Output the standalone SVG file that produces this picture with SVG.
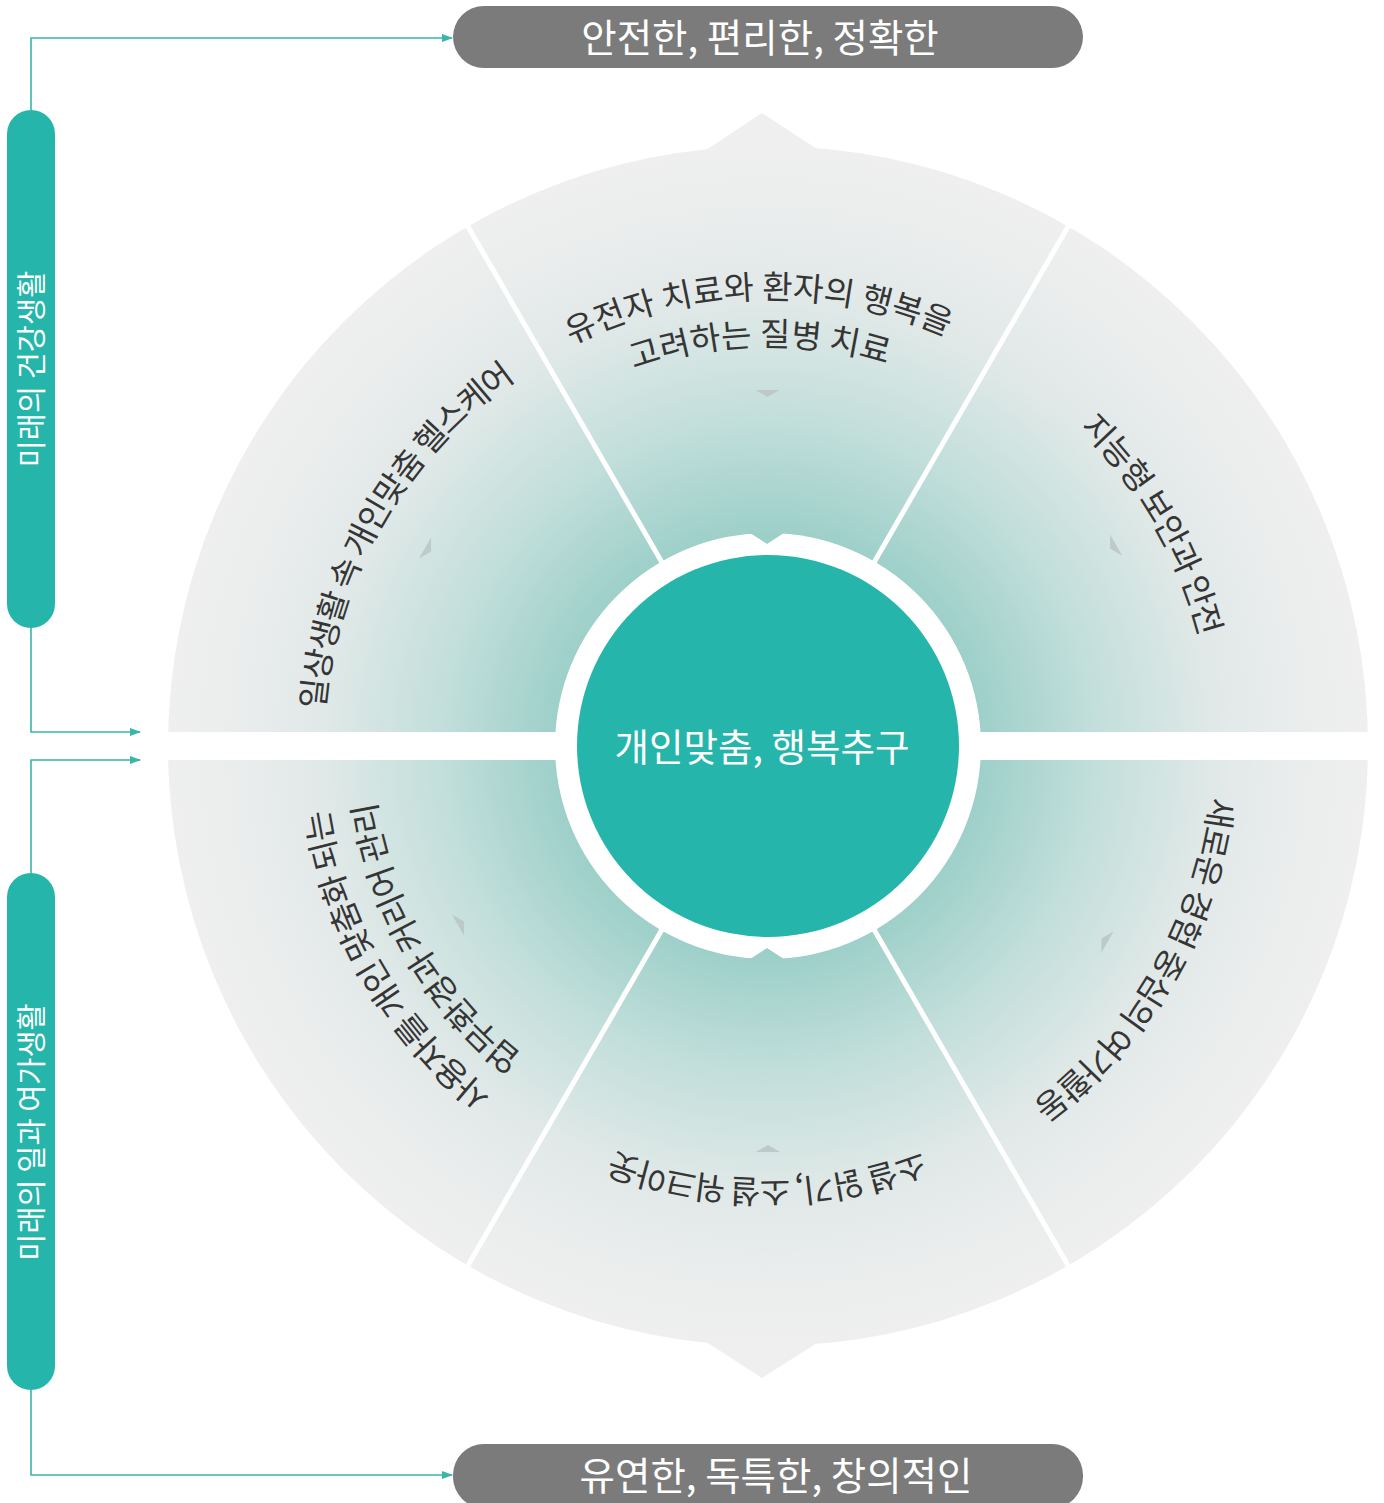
<svg xmlns="http://www.w3.org/2000/svg" width="1384" height="1503" viewBox="0 0 1384 1503">
<defs>
<style>
.seg{font-family:"Noto Sans CJK KR","Noto Sans",sans-serif;font-size:33px;letter-spacing:-1.5px;fill:#353535}
.wide{letter-spacing:0px}
.ban{font-family:"Noto Sans CJK KR","Noto Sans",sans-serif;font-size:38.5px;fill:#ffffff;text-anchor:middle}
.bar{font-family:"Noto Sans CJK KR","Noto Sans",sans-serif;font-size:29.5px;fill:#ffffff;text-anchor:middle}
.conn{fill:none;stroke:#3ab5aa;stroke-width:1.6}
.div{stroke:#ffffff;stroke-width:5}
.mk{fill:#b9c5c3;opacity:0.85}
</style>
<radialGradient id="g" gradientUnits="userSpaceOnUse" cx="768" cy="746" r="600">
<stop offset="0.35" stop-color="#9dcfc9"/>
<stop offset="0.55" stop-color="#c3dfdb"/>
<stop offset="0.75" stop-color="#e1e9e8"/>
<stop offset="0.9" stop-color="#ebeded"/>
<stop offset="1" stop-color="#efefef"/>
</radialGradient>
<marker id="arr" markerUnits="userSpaceOnUse" markerWidth="11" markerHeight="8" refX="10" refY="4" orient="auto">
<path d="M0,0 L11,4 L0,8 z" fill="#3ab5aa"/>
</marker>
<path id="p-top1" d="M451.9,429.9 A447,447 0 0 1 1084.1,429.9"/>
<path id="p-top2" d="M485.2,463.2 A400,400 0 0 1 1050.8,463.2"/>
<path id="p-ul" d="M338.2,861.2 A445,445 0 0 1 652.8,316.2"/>
<path id="p-ur" d="M883.2,316.2 A445,445 0 0 1 1197.8,861.2"/>
<path id="p-lr" d="M1197.8,630.8 A445,445 0 0 1 883.2,1175.8"/>
<path id="p-bot" d="M1074.9,1052.9 A434,434 0 0 1 461.1,1052.9"/>
<path id="p-ll1" d="M653.1,1174.9 A444,444 0 0 1 339.1,631.1"/>
<path id="p-ll2" d="M665.5,1128.5 A396,396 0 0 1 385.5,643.5"/>
<polygon id="tri" points="-12,0 12,0 0,7"/>
</defs>
<rect width="1384" height="1503" fill="#ffffff"/>

<g id="wheel">
<circle cx="768" cy="746" r="600" fill="url(#g)"/>
<polygon points="697,156 762,113 828,156" fill="#efefef"/>
<polygon points="697,1336 762,1378 828,1336" fill="#efefef"/>
<rect x="150" y="732" width="1240" height="28" fill="#ffffff"/>
<line class="div" x1="768" y1="746" x2="463" y2="218"/>
<line class="div" x1="768" y1="746" x2="1073" y2="218"/>
<line class="div" x1="768" y1="746" x2="463" y2="1274"/>
<line class="div" x1="768" y1="746" x2="1073" y2="1274"/>
<circle cx="768" cy="746" r="213" fill="#ffffff"/>
<polygon points="747,531 767,544 787,531" fill="url(#g)"/>
<polygon points="747,961 767,948 787,961" fill="url(#g)"/>
</g>

<g id="markers">
<use href="#tri" class="mk" transform="translate(767.5,390)"/>
<use href="#tri" class="mk" transform="rotate(-60 768 746) translate(768,350)"/>
<use href="#tri" class="mk" transform="rotate(60 768 746) translate(768,344)"/>
<use href="#tri" class="mk" transform="rotate(120 768 746) translate(768,354)"/>
<use href="#tri" class="mk" transform="rotate(180 768 746) translate(768,340)"/>
<use href="#tri" class="mk" transform="rotate(240 768 746) translate(768,388)"/>
</g>

<g id="center">
<circle cx="768" cy="746" r="191" fill="#26b5aa"/>
<text x="762" y="761" class="ban" style="font-size:37.5px">개인맞춤, 행복추구</text>
</g>

<g id="seg-top">
<text class="seg wide"><textPath href="#p-top1" startOffset="48.6%" text-anchor="middle">유전자 치료와 환자의 행복을</textPath></text>
<text class="seg wide"><textPath href="#p-top2" startOffset="48.7%" text-anchor="middle">고려하는 질병 치료</textPath></text>
</g>
<g id="seg-upper-left">
<text class="seg"><textPath href="#p-ul" startOffset="50%" text-anchor="middle">일상생활 속 개인맞춤 헬스케어</textPath></text>
</g>
<g id="seg-upper-right">
<text class="seg"><textPath href="#p-ur" startOffset="50%" text-anchor="middle">지능형 보안과 안전</textPath></text>
</g>
<g id="seg-lower-right">
<text class="seg"><textPath href="#p-lr" startOffset="50%" text-anchor="middle">새로운 경험 중심의 여가활동</textPath></text>
</g>
<g id="seg-bottom">
<text class="seg"><textPath href="#p-bot" startOffset="50%" text-anchor="middle">소셜 읽기, 소셜 워크아웃</textPath></text>
</g>
<g id="seg-lower-left">
<text class="seg"><textPath href="#p-ll1" startOffset="50%" text-anchor="middle">사용자를 개인 맞춤화 되는</textPath></text>
<text class="seg"><textPath href="#p-ll2" startOffset="50%" text-anchor="middle">업무환경과 커리어 관리</textPath></text>
</g>

<g id="connectors">
<path class="conn" d="M31,110 V38 H452" marker-end="url(#arr)"/>
<path class="conn" d="M31,628 V732 H140" marker-end="url(#arr)"/>
<path class="conn" d="M31,873 V760 H140" marker-end="url(#arr)"/>
<path class="conn" d="M31,1390 V1475 H452" marker-end="url(#arr)"/>
</g>

<g id="bar-health">
<rect x="7" y="110" width="48" height="518" rx="24" fill="#26b5aa"/>
<text class="bar" transform="translate(42,369) rotate(-90)">미래의 건강생활</text>
</g>
<g id="bar-work">
<rect x="7" y="873" width="48" height="517" rx="24" fill="#26b5aa"/>
<text class="bar" transform="translate(42,1132) rotate(-90)">미래의 일과 여가생활</text>
</g>

<g id="banner-top">
<rect x="453" y="6" width="630" height="62" rx="31" fill="#7b7b7b"/>
<text class="ban" x="760" y="52">안전한, 편리한, 정확한</text>
</g>
<g id="banner-bottom">
<rect x="453" y="1444" width="630" height="64" rx="31" fill="#7b7b7b"/>
<text class="ban" x="776" y="1490">유연한, 독특한, 창의적인</text>
</g>
</svg>
